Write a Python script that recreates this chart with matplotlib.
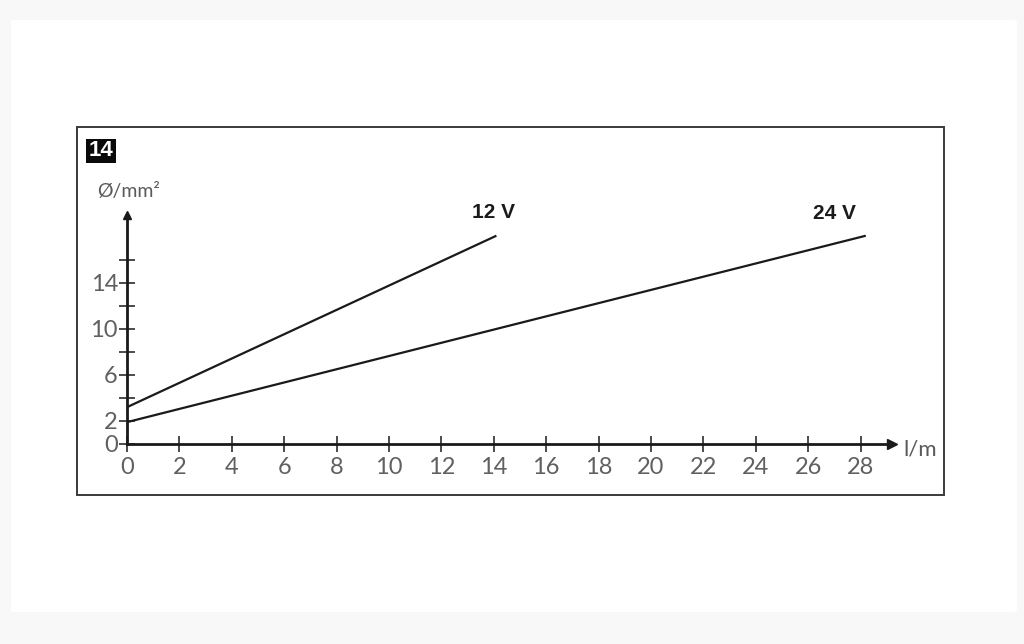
import matplotlib
matplotlib.use("Agg")
import matplotlib.pyplot as plt
from matplotlib.patches import Rectangle, FancyBboxPatch

# Data
series_names = ["12 V", "24 V"]
length_12v = [0.0, 14.1]
section_12v = [3.2, 18.1]
length_24v = [0.0, 28.2]
section_24v = [1.9, 18.1]
x_ticks = list(range(0, 29, 2))
y_major_ticks = [0, 2, 6, 10, 14]
y_minor_ticks = [4, 8, 12, 16]
figure_number = "14"
y_label = "Ø/mm²"
x_label = "l/m"

W, H = 1024, 644
fig = plt.figure(figsize=(W / 100, H / 100), dpi=100)
fig.patch.set_facecolor("#f8f8f8")

def fx(px):
    return px / W

def fy(py):
    return 1 - py / H

# white panel
fig.patches.append(FancyBboxPatch((fx(11), fy(612)), fx(1006), (612 - 20) / H,
                                  boxstyle="round,pad=0,rounding_size=0.004",
                                  transform=fig.transFigure, facecolor="white",
                                  edgecolor="none", zorder=-5))
# chart frame
fig.patches.append(Rectangle((fx(77), fy(495)), fx(944 - 77), (495 - 127) / H,
                             transform=fig.transFigure, facecolor="none",
                             edgecolor="#3a3a3a", linewidth=1.4, zorder=1))
# figure number box
fig.patches.append(Rectangle((fx(86), fy(163)), fx(30), 24 / H,
                             transform=fig.transFigure, facecolor="#0a0a0a",
                             edgecolor="none", zorder=2))
fig.text(fx(101), fy(151), figure_number, color="white", fontsize=16,
         fontweight="bold", ha="center", va="center", family="Liberation Sans")

x0, x1 = 127, 892
y0, y1 = 444, 215
ax = fig.add_axes([fx(x0), fy(y0), fx(x1 - x0), (y0 - y1) / H])
ax.set_zorder(3)
ax.set_facecolor("none")
ax.set_xlim(0, 29.2)
ax.set_ylim(0, 19.9)

for s in ["top", "right"]:
    ax.spines[s].set_visible(False)
for s in ["left", "bottom"]:
    ax.spines[s].set_linewidth(2.0)
    ax.spines[s].set_color("#1a1a1a")

ax.plot(1, 0, ">", color="#1a1a1a", markersize=7, transform=ax.get_yaxis_transform(), clip_on=False)
ax.plot(0, 1, "^", color="#1a1a1a", markersize=6, transform=ax.get_xaxis_transform(), clip_on=False)

ax.set_xticks(x_ticks)
ax.set_xticklabels([str(t) for t in x_ticks])
ax.set_yticks(y_major_ticks)
ax.set_yticklabels([str(t) for t in y_major_ticks])
ax.set_yticks(y_minor_ticks, minor=True)
ax.tick_params(axis="both", which="both", direction="inout", length=11, width=1.1,
               color="#1a1a1a", labelsize=17, labelcolor="#606060")
ax.tick_params(axis="x", pad=4)
ax.tick_params(axis="y", pad=1)
for lbl in ax.get_xticklabels() + ax.get_yticklabels():
    lbl.set_family("Lato")

ax.plot(length_12v, section_12v, color="#1a1a1a", linewidth=1.6, solid_capstyle="butt")
ax.plot(length_24v, section_24v, color="#1a1a1a", linewidth=1.6, solid_capstyle="butt")

ax.text(14.0, 19.3, series_names[0], fontsize=15, fontweight="bold", ha="center",
        va="bottom", color="#1a1a1a", family="Liberation Sans")
ax.text(27.0, 19.2, series_names[1], fontsize=15, fontweight="bold", ha="center",
        va="bottom", color="#1a1a1a", family="Liberation Sans")

fig.text(fx(97), fy(192), y_label, fontsize=14, color="#5a5a5a", ha="left",
         va="center", family="Lato", zorder=4)
fig.text(fx(903), fy(450), x_label, fontsize=16, color="#5a5a5a", ha="left",
         va="center", family="Lato", zorder=4)

fig.savefig("out.png", dpi=100, facecolor=fig.get_facecolor())
